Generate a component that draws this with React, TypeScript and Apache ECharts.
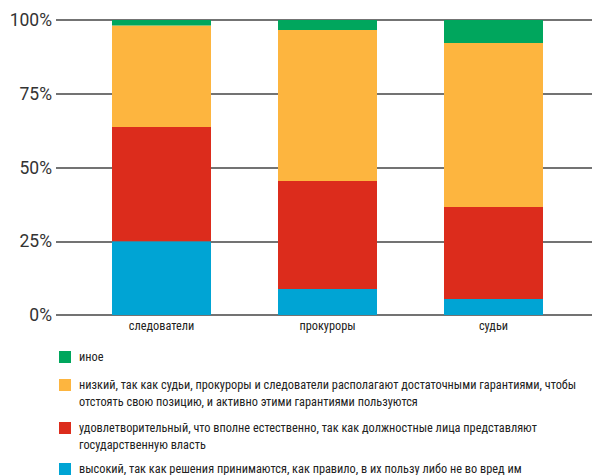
import React, { useEffect, useRef } from "react";
import * as echarts from "echarts";

const categories = ["следователи", "прокуроры", "судьи"];
const seriesNames = [
  "высокий, так как решения принимаются, как правило, в их пользу либо не во вред им",
  "удовлетворительный, что вполне естественно, так как должностные лица представляют государственную власть",
  "низкий, так как судьи, прокуроры и следователи располагают достаточными гарантиями, чтобы отстоять свою позицию, и активно этими гарантиями пользуются",
  "иное",
];
const legendTexts = [
  "высокий, так как решения принимаются, как правило, в их пользу либо не во вред им",
  "удовлетворительный, что вполне естественно, так как должностные лица представляют\nгосударственную власть",
  "низкий, так как судьи, прокуроры и следователи располагают достаточными гарантиями, чтобы\nотстоять свою позицию, и активно этими гарантиями пользуются",
  "иное",
];
const highValues = [25, 8.8, 5.4];
const satisfactoryValues = [38.7, 36.6, 31.2];
const lowValues = [34.4, 51.2, 55.6];
const otherValues = [1.9, 3.4, 7.8];
const seriesValues = [highValues, satisfactoryValues, lowValues, otherValues];
const colors = ["#00A4D4", "#DC2C1C", "#FDB53F", "#00A65D"];
const yTicks = [0, 25, 50, 75, 100];

const condensed = "'Roboto Condensed', sans-serif";

export default function App() {
  const ref = useRef<HTMLDivElement>(null);
  useEffect(() => {
    document.body.style.margin = "0";
    const chart = echarts.init(ref.current!, undefined, { renderer: "svg" });
    const legendCenters = [469, 428, 385, 357];
    const lineH = 16.5;
    const legendGraphics = seriesNames.map((name, i) => ({
      type: "group",
      children: [
        {
          type: "rect",
          shape: { x: 59, y: legendCenters[i] - 6, width: 12, height: 12 },
          style: { fill: colors[i] },
        },
        {
          type: "text",
          x: 79,
          y: legendCenters[i] - lineH / 2,
          style: {
            text: legendTexts[i],
            fontFamily: condensed,
            fontSize: 12.3,
            lineHeight: lineH,
            fill: "#222",
            verticalAlign: "top",
            align: "left",
          },
        },
      ],
    }));
    chart.setOption({
      animation: false,
      graphic: legendGraphics,
      grid: [
        { left: 56, right: 0, top: 20, height: 295 },
        { left: 78.5, width: 498, top: 20, height: 295 },
      ],
      xAxis: [
        { type: "value", gridIndex: 0, show: false, min: 0, max: 1 },
        {
          type: "category",
          gridIndex: 1,
          data: categories,
          axisLine: { show: false },
          axisTick: { show: false },
          axisLabel: { fontFamily: condensed, fontSize: 12.3, color: "#222", margin: 5 },
        },
      ],
      yAxis: [
        {
          type: "value",
          gridIndex: 0,
          min: yTicks[0],
          max: yTicks[yTicks.length - 1],
          interval: 25,
          axisLine: { show: false },
          axisTick: { show: false },
          axisLabel: {
            formatter: "{value}%",
            fontFamily: "Roboto, sans-serif",
            fontSize: 17.5,
            color: "#333",
            margin: 4,
          },
          splitLine: { lineStyle: { color: "#444", width: 1.5 } },
        },
        { type: "value", gridIndex: 1, min: 0, max: 100, show: false },
      ],
      series: seriesNames.map((name, i) => ({
        name,
        type: "bar",
        stack: "total",
        xAxisIndex: 1,
        yAxisIndex: 1,
        barWidth: 99,
        itemStyle: { color: colors[i] },
        data: seriesValues[i],
      })),
    });
    return () => chart.dispose();
  }, []);
  return <div ref={ref} style={{ width: 592, height: 475 }} />;
}
